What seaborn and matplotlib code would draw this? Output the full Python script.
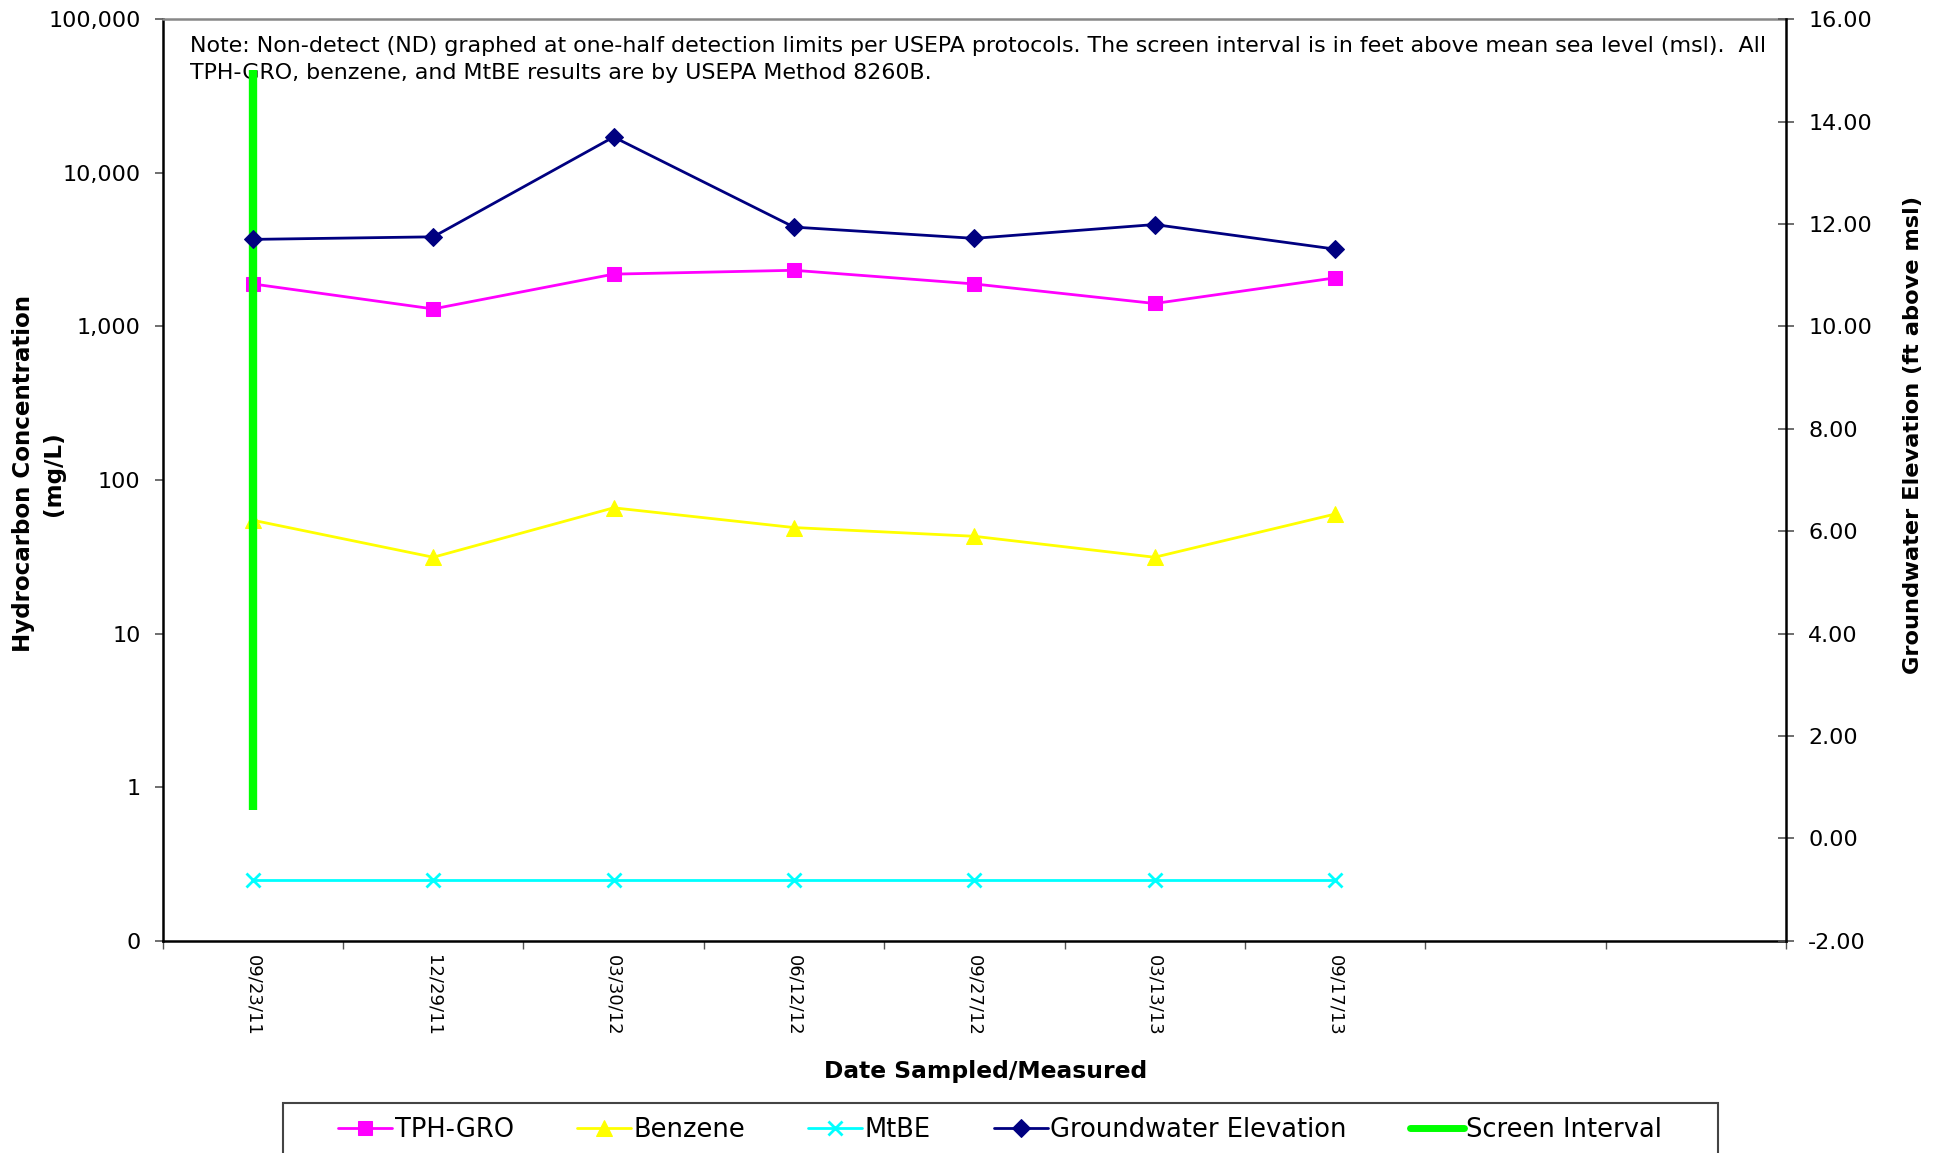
import numpy as np
import pandas as pd
import matplotlib
matplotlib.use("Agg")
import matplotlib.pyplot as plt
from matplotlib.ticker import FixedLocator, FuncFormatter, NullLocator
from matplotlib.lines import Line2D
from matplotlib.patches import Rectangle
import seaborn as sns

# ---- data ----
dates = ["09/23/11", "12/29/11", "03/30/12", "06/12/12", "09/27/12", "03/13/13", "09/17/13"]
tph_gro = [1890, 1300, 2190, 2320, 1890, 1410, 2070]          # mg/L
benzene = [54.7, 31.4, 65.9, 49.0, 43.0, 31.4, 60.0]          # mg/L
mtbe = [0.25, 0.25, 0.25, 0.25, 0.25, 0.25, 0.25]              # mg/L (ND, half DL)
gw_elev = [11.70, 11.75, 13.70, 11.94, 11.72, 11.99, 11.51]    # ft msl
screen_interval = [0.55, 15.0]                                  # ft msl, bottom/top
n_slots = 9

conc_ticks = [0.1, 1, 10, 100, 1000, 10000, 100000]
elev_ticks = [-2, 0, 2, 4, 6, 8, 10, 12, 14, 16]

note = ("Note: Non-detect (ND) graphed at one-half detection limits per USEPA protocols. "
        "The screen interval is in feet above mean sea level (msl).  All\n"
        "TPH-GRO, benzene, and MtBE results are by USEPA Method 8260B.")

sns.set_style("ticks")
plt.rcParams["font.family"] = ["DejaVu Sans"]
plt.rcParams["text.color"] = "black"
plt.rcParams["axes.labelcolor"] = "black"
plt.rcParams["xtick.color"] = "black"
plt.rcParams["ytick.color"] = "black"

x = list(range(len(dates)))
df = pd.DataFrame({"x": x, "tph": tph_gro, "benz": benzene, "mtbe": mtbe, "gw": gw_elev})

fig = plt.figure(figsize=(19.44, 11.53), dpi=100)
ax = fig.add_axes([0.0837, 0.1841, 0.835, 0.7992])
ax2 = ax.twinx()

# ---- concentration series (log axis) ----
sns.lineplot(data=df, x="x", y="tph", ax=ax, color="#FF00FF", lw=2,
             marker="s", markersize=10, markeredgecolor="#FF00FF", label="TPH-GRO")
sns.lineplot(data=df, x="x", y="benz", ax=ax, color="#FFFF00", lw=2,
             marker="^", markersize=11, markeredgecolor="#FFFF00", label="Benzene")
sns.lineplot(data=df, x="x", y="mtbe", ax=ax, color="#00FFFF", lw=2,
             marker="x", markersize=10, markeredgewidth=2, markeredgecolor="#00FFFF", label="MtBE")

# ---- elevation series ----
sns.lineplot(x=[0, 0], y=screen_interval, ax=ax2, estimator=None, sort=False,
             color="#00FF00", lw=6, solid_capstyle="butt", label="Screen Interval")
sns.lineplot(data=df, x="x", y="gw", ax=ax2, color="#000080", lw=2,
             marker="D", markersize=9, markeredgecolor="#000080", label="Groundwater Elevation")

for a in (ax, ax2):
    if a.get_legend() is not None:
        a.get_legend().remove()

# ---- axes setup ----
ax.set_yscale("log")
ax.set_ylim(0.1, 1e5)
ax.set_xlim(-0.5, n_slots - 0.5)
ax.yaxis.set_major_locator(FixedLocator(conc_ticks))
ax.yaxis.set_minor_locator(NullLocator())
ax.yaxis.set_major_formatter(FuncFormatter(lambda v, p: f"{v:,.0f}"))
ax.tick_params(axis="y", which="major", left=True, direction="out", length=6,
               width=1.2, color="#555555", labelsize=16, pad=10)

ax.set_xticks(x)
ax.set_xticklabels(dates, rotation=-90, ha="center", va="top", fontsize=13)
ax.xaxis.set_minor_locator(FixedLocator(np.arange(-0.5, n_slots, 1.0)))
ax.tick_params(axis="x", which="major", bottom=True, length=0, pad=10)
ax.tick_params(axis="x", which="minor", bottom=True, direction="out", length=6,
               width=1, color="#555555")

ax2.set_ylim(-2, 16)
ax2.yaxis.set_major_locator(FixedLocator(elev_ticks))
ax2.yaxis.set_major_formatter(FuncFormatter(lambda v, p: f"{v:.2f}"))
ax2.tick_params(axis="y", right=True, direction="inout", length=12, width=1.2,
                color="#555555", labelsize=16, pad=10)

for a in (ax, ax2):
    for s in a.spines.values():
        s.set_linewidth(1.8)
        s.set_color("black")
    a.spines["top"].set_color("#888888")
ax.spines["right"].set_visible(False)
for s in ("left", "top", "bottom"):
    ax2.spines[s].set_visible(False)

# ---- labels ----
ax.set_xlabel("Date Sampled/Measured", fontsize=16.8, fontweight="bold", va="center")
ax.xaxis.set_label_coords(0.507, -0.1414)
ax.set_ylabel("Hydrocarbon Concentration\n(mg/L)", fontsize=16.6, fontweight="bold",
              va="center", linespacing=1.35)
ax.yaxis.set_label_coords(-0.0765, 0.507)
ax2.set_ylabel("Groundwater Elevation (ft above msl)", fontsize=16.2, fontweight="bold",
               va="center", rotation=90)
ax2.yaxis.set_label_coords(1.078, 0.549)

ax.text(0.0168, 0.982, note, transform=ax.transAxes, ha="left", va="top",
        fontsize=15.9, linespacing=1.45, color="black", zorder=1)

# ---- legend ----
h1, l1 = ax.get_legend_handles_labels()
h2, l2 = ax2.get_legend_handles_labels()
hmap = dict(zip(l1 + l2, h1 + h2))
order = ["TPH-GRO", "Benzene", "MtBE", "Groundwater Elevation", "Screen Interval"]
handles = []
for name in order:
    h = hmap[name]
    handles.append(Line2D([], [], color=h.get_color(),
                          lw=h.get_linewidth() if name != "Screen Interval" else 5,
                          marker=h.get_marker(), markersize=h.get_markersize(),
                          markeredgecolor=h.get_markeredgecolor(),
                          markeredgewidth=h.get_markeredgewidth(),
                          solid_capstyle="round"))
fig.legend(handles, order, loc="center", bbox_to_anchor=(0.5145, 1 - 1130 / 1153),
           ncol=5, frameon=False, fontsize=18.5, handlelength=2.1, handletextpad=0.1,
           columnspacing=2.45)
fig.patches.append(Rectangle((283 / 1944, -0.05), (1718 - 283) / 1944, 0.05 + 50 / 1153,
                             transform=fig.transFigure, fill=False, edgecolor="#444444",
                             lw=1.5, figure=fig))

fig.savefig("out.png", dpi=100)
